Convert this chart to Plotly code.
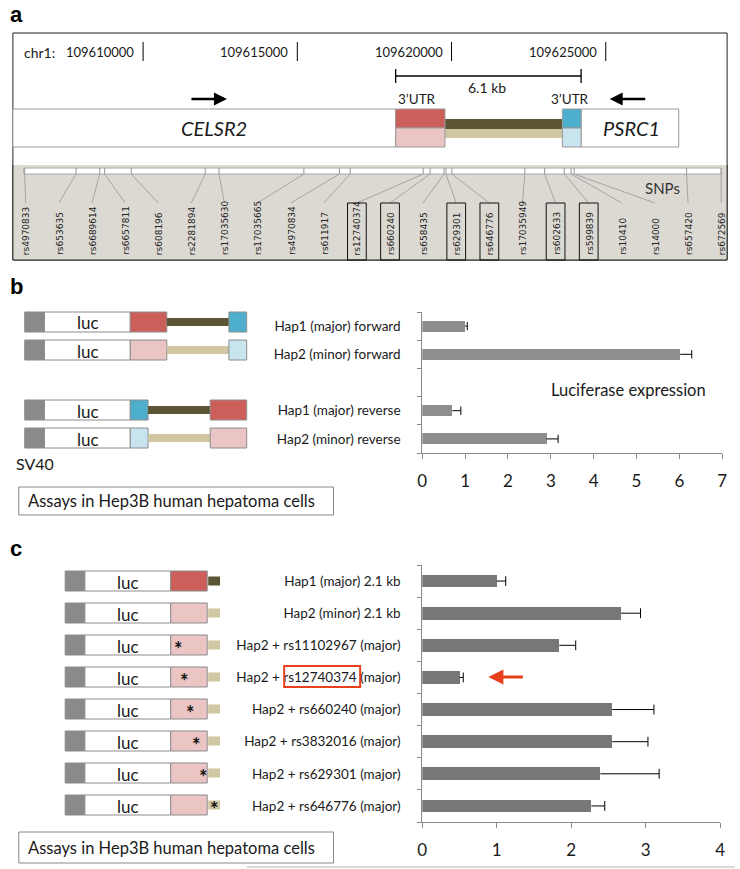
import plotly.graph_objects as go

W, H = 740, 869

# ---------------- data ----------------
chr_ticks = [109610000, 109615000, 109620000, 109625000]

snp_ids = ["rs4970833", "rs653635", "rs6689614", "rs6657811", "rs608196", "rs2281894",
           "rs17035630", "rs17035665", "rs4970834", "rs611917", "rs12740374", "rs660240",
           "rs658435", "rs629301", "rs646776", "rs17035949", "rs602633", "rs599839",
           "rs10410", "rs14000", "rs657420", "rs672569"]
snp_bp = [109606160, 109607825, 109608593, 109608753, 109609616, 109612015,
          109612462, 109615213, 109616364, 109616716, 109619082, 109619306,
          109619754, 109619818, 109620010, 109622376, 109623016, 109623655,
          109623879, 109623975, 109627621, 109628740]
snp_boxed = ["rs12740374", "rs660240", "rs629301", "rs646776", "rs602633", "rs599839"]

b_labels = ["Hap1 (major) forward", "Hap2 (minor) forward",
            "Hap1 (major) reverse", "Hap2 (minor) reverse"]
b_pos = [0, 1, 3, 4]
b_values = [1.0, 6.02, 0.70, 2.90]
b_errors = [0.05, 0.27, 0.20, 0.27]
b_xticks = [0, 1, 2, 3, 4, 5, 6, 7]

c_labels = ["Hap1 (major) 2.1 kb", "Hap2 (minor) 2.1 kb", "Hap2 + rs11102967 (major)",
            "Hap2 + rs12740374 (major)", "Hap2 + rs660240 (major)", "Hap2 + rs3832016 (major)",
            "Hap2 + rs629301 (major)", "Hap2 + rs646776 (major)"]
c_pos = [0, 1, 2, 3, 4, 5, 6, 7]
c_values = [1.0, 2.67, 1.84, 0.50, 2.55, 2.55, 2.39, 2.27]
c_errors = [0.12, 0.26, 0.22, 0.05, 0.56, 0.48, 0.79, 0.18]
c_xticks = [0, 1, 2, 3, 4]

# ---------------- helpers ----------------
def X(px):
    return px / W


def Y(py):
    return 1 - py / H


def bp2px(bp):
    return 140 + (bp - 109610000) / 5000 * 156.33


shapes = []
ann = []

RED = "#CD5F5B"
PINK = "#EBC4C4"
OLIVE = "#5C5534"
TAN = "#D0C7A2"
BLUE = "#4DAFCC"
LBLUE = "#C8E4EF"
GRAYBOX = "#8A8A8A"
OUT = "#8C8C8C"
TXT = "#1a1a1a"
FONT = "Lato"


def rect(x0, y0, x1, y1, fill, line=OUT, lw=1):
    shapes.append(dict(type="rect", xref="paper", yref="paper",
                       x0=X(x0), x1=X(x1), y0=Y(y1), y1=Y(y0),
                       fillcolor=fill, line=dict(color=line, width=lw), layer="above"))


def line(x0, y0, x1, y1, color="#000", lw=1):
    shapes.append(dict(type="line", xref="paper", yref="paper",
                       x0=X(x0), x1=X(x1), y0=Y(y0), y1=Y(y1),
                       line=dict(color=color, width=lw), layer="above"))


def text(x, y, s, size=14, xanchor="center", yanchor="middle", family=FONT,
         color=TXT, angle=0):
    ann.append(dict(xref="paper", yref="paper", x=X(x), y=Y(y), text=s,
                    showarrow=False, xanchor=xanchor, yanchor=yanchor,
                    textangle=angle, font=dict(family=family, size=size, color=color)))


# ---------------- panel labels ----------------
for lab, yy in (("a", 14), ("b", 286), ("c", 548)):
    text(3, yy, "<b>%s</b>" % lab, size=22, xanchor="left", family="Liberation Sans", color="#000")

# ---------------- panel a ----------------
rect(8, 33, 732, 260, "white", line="#222", lw=1)
rect(8, 165, 732, 260, "#DCD9D2", line="rgba(0,0,0,0)", lw=0)
line(8, 260, 732, 260, "#222", 1)
line(732, 165, 732, 260, "#222", 1)
line(8, 165, 8, 260, "#222", 1)

text(17, 52, "chr1:", size=14, xanchor="left")
for t in chr_ticks:
    px = bp2px(t)
    line(px, 42, px, 61, "#000", 1)
    text(px - 7, 52, str(t), size=13, xanchor="right")

# 6.1 kb bracket
line(396, 76, 584, 76, "#000", 1.3)
line(396, 69, 396, 83, "#000", 1.3)
line(584, 69, 584, 83, "#000", 1.3)
text(489, 88, "6.1 kb", size=14)
text(418, 99, "3\u2019UTR", size=13.5)
text(573, 99, "3\u2019UTR", size=13.5)

# arrows
ann.append(dict(xref="paper", yref="paper", x=X(225), y=Y(99), ax=-37, ay=0, text="",
                showarrow=True, arrowhead=2, arrowsize=1, arrowwidth=2.6, arrowcolor="#000"))
ann.append(dict(xref="paper", yref="paper", x=X(613), y=Y(99), ax=37, ay=0, text="",
                showarrow=True, arrowhead=2, arrowsize=1, arrowwidth=2.6, arrowcolor="#000"))

# genes
rect(8, 109, 396, 147, "white", line="#999")
rect(584, 109, 683, 147, "white", line="#999")
rect(446, 119, 565, 129, OLIVE, line="rgba(0,0,0,0)", lw=0)
rect(446, 129, 565, 138, TAN, line="rgba(0,0,0,0)", lw=0)
rect(396, 109, 446, 128, RED, line="#999")
rect(396, 128, 446, 147, PINK, line="#999")
rect(565, 109, 584, 128, BLUE, line="#999")
rect(565, 128, 584, 147, LBLUE, line="#999")
text(212, 128, "<i>CELSR2</i>", size=20)
text(635, 128, "<i>PSRC1</i>", size=20)

# SNP strip
rect(19, 168, 726, 174, "white", line="#A8A8A8")
n = len(snp_ids)
for i, (sid, bp) in enumerate(zip(snp_ids, snp_bp)):
    sx = bp2px(bp)
    lx = 21 + i * (726 - 21) / (n - 1)
    line(sx, 168, sx, 174, "#999", 1)
    line(sx, 174, lx, 203, "#A5A5A5", 1)
    text(lx + 0.5, 257, sid, size=9, family="DejaVu Sans", color="#222",
         angle=-90, yanchor="bottom")
    if sid in snp_boxed:
        rect(lx - 9.5, 203, lx + 9.5, 260, "rgba(0,0,0,0)", line="#111", lw=1)
text(667, 188, "SNPs", size=15, color="#333")

# ---------------- panel b diagram ----------------
def luc_row(xg, yc, size_luc=17):
    rect(xg, yc - 10, xg + 20, yc + 10, GRAYBOX, line=OUT)
    rect(xg + 20, yc - 10, xg + 107, yc + 10, "white", line=OUT)
    text(xg + 64, yc + 1, "luc", size=size_luc)


b_rows = [322, 350, 410, 438]
for k, yc in enumerate(b_rows):
    luc_row(20, yc)
    if k == 0:
        rect(127, yc - 10, 164, yc + 10, RED, line=OUT)
        rect(164, yc - 4, 227, yc + 4, OLIVE, line="rgba(0,0,0,0)", lw=0)
        rect(227, yc - 10, 245, yc + 10, BLUE, line=OUT)
    elif k == 1:
        rect(127, yc - 10, 164, yc + 10, PINK, line=OUT)
        rect(164, yc - 4, 227, yc + 4, TAN, line="rgba(0,0,0,0)", lw=0)
        rect(227, yc - 10, 245, yc + 10, LBLUE, line=OUT)
    elif k == 2:
        rect(127, yc - 10, 145, yc + 10, BLUE, line=OUT)
        rect(145, yc - 4, 208, yc + 4, OLIVE, line="rgba(0,0,0,0)", lw=0)
        rect(208, yc - 10, 245, yc + 10, RED, line=OUT)
    else:
        rect(127, yc - 10, 145, yc + 10, LBLUE, line=OUT)
        rect(145, yc - 4, 208, yc + 4, TAN, line="rgba(0,0,0,0)", lw=0)
        rect(208, yc - 10, 245, yc + 10, PINK, line=OUT)

text(9, 463, "SV40", size=16, xanchor="left")
rect(14, 487, 333, 515, "white", line="#888")
text(21, 501, "Assays in Hep3B human hepatoma cells", size=16.5, xanchor="left")
text(632, 390, "Luciferase expression", size=16.5)

# ---------------- panel c diagram ----------------
c_rows = [581, 613, 645, 677, 709, 741, 773, 805]
star_x = [None, None, 176, 182, 188, 194, 201, 212]
for k, yc in enumerate(c_rows):
    luc_row(61, yc)
    rect(206, yc - 4.5, 218, yc + 4.5, OLIVE if k == 0 else TAN, line="rgba(0,0,0,0)", lw=0)
    rect(168, yc - 10, 205, yc + 10, RED if k == 0 else PINK, line=OUT)
    if star_x[k] is not None:
        text(star_x[k], yc + 4, "<b>*</b>", size=20, color="#111")

rect(14, 832, 333, 863, "white", line="#888")
text(21, 848, "Assays in Hep3B human hepatoma cells", size=16.5, xanchor="left")
line(245, 867, 740, 867, "#B5B5B5", 1.2)

# highlight box and red arrow
rect(283, 666, 360, 687, "rgba(0,0,0,0)", line="#E8401C", lw=2)
ann.append(dict(xref="paper", yref="paper", x=X(490), y=Y(677), ax=36, ay=0, text="",
                showarrow=True, arrowhead=2, arrowsize=1, arrowwidth=3, arrowcolor="#E8401C"))

# ---------------- bar charts ----------------
fig = go.Figure()

fig.add_trace(go.Bar(x=b_values, y=b_pos, orientation="h", width=0.39,
                     marker=dict(color="#8E8E8E", line_width=0), xaxis="x", yaxis="y",
                     showlegend=False))
ex, ey = [], []
for v, e, p in zip(b_values, b_errors, b_pos):
    ex += [v, v + e, None]
    ey += [p, p, None]
fig.add_trace(go.Scatter(x=ex, y=ey, mode="lines", line=dict(color="#000", width=1),
                         xaxis="x", yaxis="y", showlegend=False))
fig.add_trace(go.Scatter(x=[v + e for v, e in zip(b_values, b_errors)], y=b_pos, mode="markers",
                         marker=dict(symbol="line-ns", size=6, line=dict(color="#000", width=1)),
                         xaxis="x", yaxis="y", showlegend=False))

fig.add_trace(go.Bar(x=c_values, y=c_pos, orientation="h", width=0.4,
                     marker=dict(color="#777777", line_width=0), xaxis="x2", yaxis="y2",
                     showlegend=False))
ex, ey = [], []
for v, e, p in zip(c_values, c_errors, c_pos):
    ex += [v, v + e, None]
    ey += [p, p, None]
fig.add_trace(go.Scatter(x=ex, y=ey, mode="lines", line=dict(color="#000", width=1),
                         xaxis="x2", yaxis="y2", showlegend=False))
fig.add_trace(go.Scatter(x=[v + e for v, e in zip(c_values, c_errors)], y=c_pos, mode="markers",
                         marker=dict(symbol="line-ns", size=7, line=dict(color="#000", width=1)),
                         xaxis="x2", yaxis="y2", showlegend=False))

AX = "#8A8A8A"
xcommon = dict(ticks="outside", ticklen=5, tickcolor=AX, showline=True, linecolor=AX,
               showgrid=False, zeroline=False, tickmode="array",
               tickfont=dict(family=FONT, size=17, color=TXT), ticklabelstandoff=8,
               fixedrange=True)
ycommon = dict(ticks="", showline=True, linecolor=AX, showgrid=False, zeroline=False,
               tickmode="array", fixedrange=True)

fig.update_layout(
    width=W, height=H, margin=dict(l=0, r=0, t=0, b=0),
    paper_bgcolor="white", plot_bgcolor="rgba(0,0,0,0)",
    showlegend=False, bargap=0,
    xaxis=dict(domain=[X(423), X(727)], range=[0, 7], anchor="y",
               tickvals=b_xticks, **xcommon),
    yaxis=dict(domain=[Y(453), Y(312)], range=[4.5, -0.5], anchor="x",
               tickvals=b_pos, ticktext=b_labels,
               tickfont=dict(family=FONT, size=13.5, color=TXT), ticklabelstandoff=18,
               minor=dict(tickmode="array", tickvals=[-0.5, 0.5, 1.5, 2.5, 3.5, 4.5],
                          ticks="outside", ticklen=4, tickcolor=AX, showgrid=False),
               **ycommon),
    xaxis2=dict(domain=[X(423), X(725)], range=[0, 4], anchor="y2",
                tickvals=c_xticks, **xcommon),
    yaxis2=dict(domain=[Y(822), Y(565)], range=[7.5, -0.5], anchor="x2",
                tickvals=c_pos, ticktext=c_labels,
                tickfont=dict(family=FONT, size=13.5, color=TXT), ticklabelstandoff=18,
                minor=dict(tickmode="array", tickvals=[i - 0.5 for i in range(9)],
                           ticks="outside", ticklen=4, tickcolor=AX, showgrid=False),
                **ycommon),
    shapes=shapes,
    annotations=ann,
)

fig.write_html("out.html",
               config={"displayModeBar": False, "staticPlot": True},
               post_script="document.body.style.margin='0';document.body.style.padding='0';"
                           "document.body.style.overflow='hidden';")
